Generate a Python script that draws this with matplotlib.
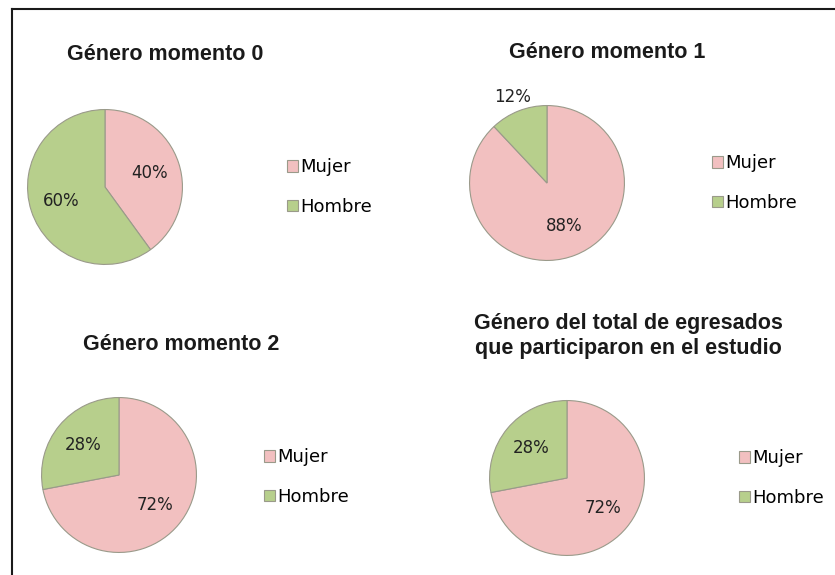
import matplotlib
matplotlib.use("Agg")
import matplotlib.pyplot as plt
from matplotlib.lines import Line2D
import numpy as np

W, H = 835, 575

categories = ["Mujer", "Hombre"]
titles = ["Género momento 0", "Género momento 1", "Género momento 2",
          "Género del total de egresados\nque participaron en el estudio"]
mujer = [40, 88, 72, 72]
hombre = [60, 12, 28, 28]

colors = ["#F2C0C0", "#B7CF8C"]

# layout in pixels: pie centre, radius, title centre, legend anchor
centers = [(105, 187), (547, 183), (119, 475), (567, 478)]
radius = 79
title_pos = [(165, 55), (607, 52), (181, 344), (628, 336)]
legend_pos = [(287, 187), (712, 183), (264, 477), (739, 478)]

fig = plt.figure(figsize=(W / 100, H / 100), dpi=100)
fig.patch.set_facecolor("white")

for i in range(4):
    cx, cy = centers[i]
    ax = fig.add_axes([(cx - radius) / W, 1 - (cy + radius) / H,
                       2 * radius / W, 2 * radius / H])
    wedges, texts, autotexts = ax.pie(
        [mujer[i], hombre[i]], colors=colors, startangle=90, counterclock=False,
        autopct="%d%%", pctdistance=0.6,
        wedgeprops=dict(edgecolor="#9a9a8a", linewidth=0.8),
        textprops=dict(fontsize=12, color="#222222", family="DejaVu Sans"))
    # small slice label sits outside the pie
    for w, t in zip(wedges, autotexts):
        if w.theta2 - w.theta1 < 60:
            x, y = t.get_position()
            t.set_position((x * 2.0, y * 2.0))
    ax.set_xlim(-1.02, 1.02)
    ax.set_ylim(-1.02, 1.02)
    ax.set_aspect("equal")
    ax.axis("off")

    tx, ty = title_pos[i]
    fig.text(tx / W, 1 - ty / H, titles[i], ha="center", va="center",
             fontsize=15.5, fontweight="bold", family="Liberation Sans",
             color="#1a1a1a", linespacing=1.3)

    lx, ly = legend_pos[i]
    fig.legend(wedges, categories, loc="center left",
               bbox_to_anchor=(lx / W, 1 - ly / H), frameon=False,
               prop=dict(family="DejaVu Sans", size=13),
               handlelength=0.6, handleheight=0.6, handletextpad=0.15,
               labelspacing=1.2, borderpad=0, borderaxespad=0)

# outer border (left and top)
fig.add_artist(Line2D([11.5 / W, 11.5 / W], [0, 1 - 8.5 / H], color="#1a1a1a", lw=1.5))
fig.add_artist(Line2D([11.5 / W, 1], [1 - 8.5 / H, 1 - 8.5 / H], color="#1a1a1a", lw=1.5))

fig.savefig("out.png", dpi=100)
